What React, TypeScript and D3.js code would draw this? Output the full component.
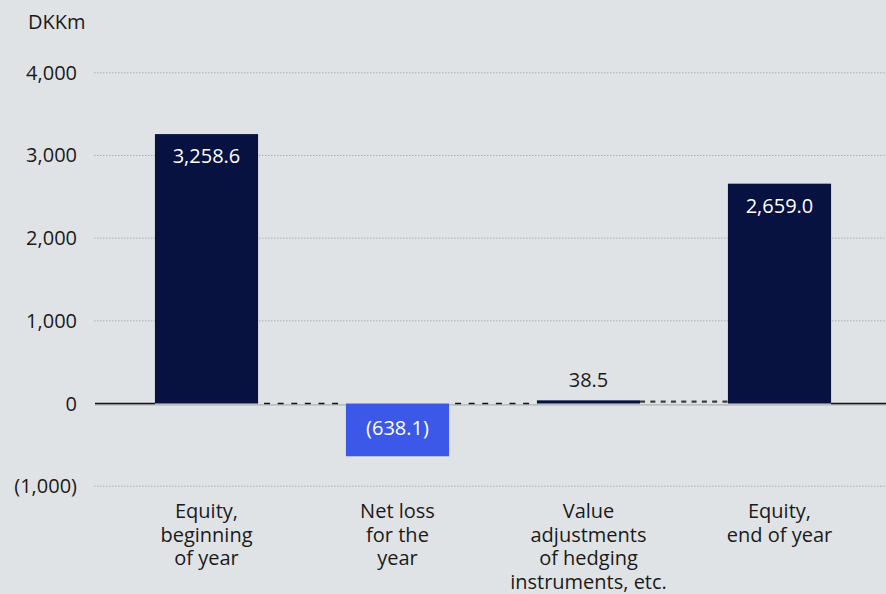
import React from "react";
import * as d3 from "d3";

const categories = ["eq_begin", "net_loss", "value_adj", "eq_end"];
const categoryLabels = [
  ["Equity,", "beginning", "of year"],
  ["Net loss", "for the", "year"],
  ["Value", "adjustments", "of hedging", "instruments, etc."],
  ["Equity,", "end of year"],
];
const values = [3258.6, -638.1, 38.5, 2659.0];
const valueLabels = ["3,258.6", "(638.1)", "38.5", "2,659.0"];
const connectorLevels = [0, 0, 38.5];
const yTicks = [-1000, 0, 1000, 2000, 3000, 4000];
const yTickLabels = ["(1,000)", "0", "1,000", "2,000", "3,000", "4,000"];
const barColors = ["#071240", "#3c58e9", "#071240", "#071240"];

const W = 886;
const H = 594;
const FONT = "'Open Sans', 'Noto Sans', sans-serif";
const FS = 20;

export default function App() {
  const x = d3
    .scaleBand<string>()
    .domain(categories)
    .range([111, 875])
    .paddingInner(0.46)
    .paddingOuter(0.23);
  const y = d3.scaleLinear().domain([-1000, 4000]).range([486.2, 72.8]);
  const bw = x.bandwidth();
  const y0 = y(0);
  const firstLeft = x(categories[0])!;
  const lastRight = x(categories[categories.length - 1])! + bw;

  return (
    <div style={{ position: "absolute", left: 0, top: 0 }}>
      <svg width={W} height={H} style={{ display: "block", background: "#e0e3e6" }}>
        <rect x={0} y={0} width={W} height={H} fill="#e0e3e6" />
        <text x={28} y={29} fontFamily={FONT} fontSize={FS} fill="#1a1a1a">
          DKKm
        </text>
        {yTicks.map((t, i) => (
          <g key={t}>
            {t !== 0 && (
              <line
                x1={94}
                x2={W}
                y1={y(t)}
                y2={y(t)}
                stroke="#a9adb2"
                strokeWidth={1}
                strokeDasharray="1.5,1.5"
              />
            )}
            <text
              x={77}
              y={y(t)}
              dy="0.35em"
              textAnchor="end"
              fontFamily={FONT}
              fontSize={FS}
              fill="#1a1a1a"
            >
              {yTickLabels[i]}
            </text>
          </g>
        ))}
        <line x1={95} x2={W} y1={y0 + 1.3} y2={y0 + 1.3} stroke="#aeb2b7" strokeWidth={1.2} />
        {values.map((v, i) => {
          const x0 = x(categories[i])!;
          const top = y(Math.max(0, v));
          const bot = y(Math.min(0, v));
          return (
            <rect
              key={categories[i]}
              x={x0}
              y={top}
              width={bw}
              height={Math.max(1, bot - top)}
              fill={barColors[i]}
            />
          );
        })}
        <line x1={95} x2={firstLeft} y1={y0} y2={y0} stroke="#111" strokeWidth={1.3} />
        <line x1={lastRight} x2={W} y1={y0} y2={y0} stroke="#111" strokeWidth={1.3} />
        {connectorLevels.map((lv, i) => {
          const xa = x(categories[i])! + bw;
          const xb = x(categories[i + 1])!;
          if (lv === 0) {
            return (
              <line
                key={"c" + i}
                x1={xa + 6}
                x2={xb - 4}
                y1={y0}
                y2={y0}
                stroke="#111"
                strokeWidth={1.3}
                strokeDasharray="6,7.6"
              />
            );
          }
          return (
            <line
              key={"c" + i}
              x1={xa}
              x2={xb}
              y1={y(lv) + 1.2}
              y2={y(lv) + 1.2}
              stroke="#3a3d42"
              strokeWidth={2.2}
              strokeDasharray="5,5.3"
            />
          );
        })}
        {values.map((v, i) => {
          const cx = x(categories[i])! + bw / 2;
          const inside = Math.abs(v) > 300;
          let yy: number;
          if (!inside) yy = y(v) - 13;
          else if (v > 0) yy = y(v) + 29;
          else yy = y0 + 31;
          return (
            <text
              key={"l" + i}
              x={cx}
              y={yy}
              textAnchor="middle"
              fontFamily={FONT}
              fontSize={FS}
              fill={inside ? "#ffffff" : "#1a1a1a"}
            >
              {valueLabels[i]}
            </text>
          );
        })}
        {categoryLabels.map((lines, i) => {
          const cx = x(categories[i])! + bw / 2;
          return (
            <text
              key={"cat" + i}
              x={cx}
              textAnchor="middle"
              fontFamily={FONT}
              fontSize={FS}
              fill="#1a1a1a"
            >
              {lines.map((ln, j) => (
                <tspan key={j} x={cx} y={518 + j * 23.5}>
                  {ln}
                </tspan>
              ))}
            </text>
          );
        })}
      </svg>
    </div>
  );
}
